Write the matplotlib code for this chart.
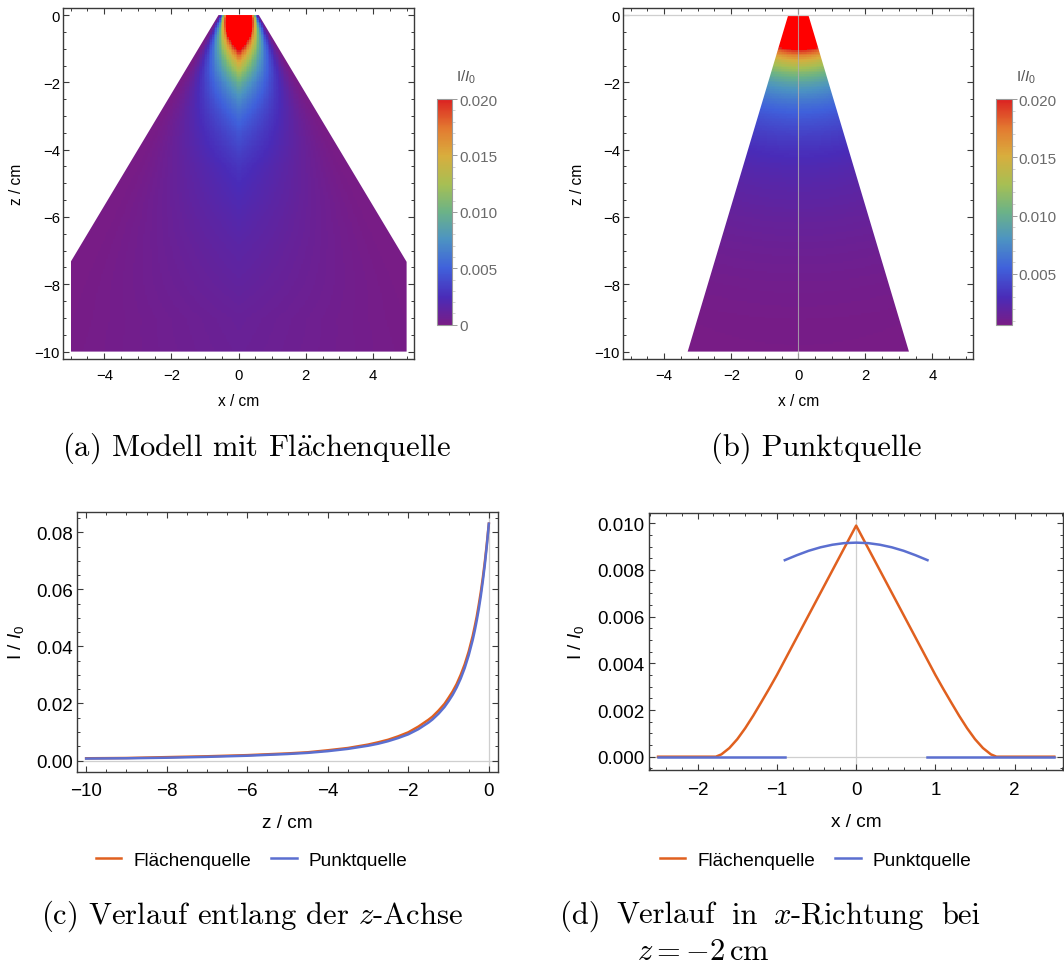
import numpy as np
import matplotlib
matplotlib.use("Agg")
import matplotlib.pyplot as plt
from matplotlib.colors import LinearSegmentedColormap
from matplotlib.ticker import MultipleLocator, FixedLocator
from matplotlib.lines import Line2D
from matplotlib.patches import Polygon

plt.rcParams["font.family"] = ["Liberation Sans", "DejaVu Sans"]
plt.rcParams["mathtext.fontset"] = "custom"
plt.rcParams["mathtext.rm"] = "Liberation Sans"
plt.rcParams["mathtext.it"] = "Liberation Sans:italic"

# ---------------- data ----------------
# intensity on the beam axis (x = 0) versus depth z
z_axis = [0.0, -0.05, -0.1, -0.15, -0.2, -0.25, -0.3, -0.35, -0.4, -0.5, -0.6,
          -0.7, -0.8, -0.9, -1.0, -1.1, -1.25, -1.4, -1.5, -1.75, -2.0, -2.25,
          -2.5, -2.75, -3.0, -3.5, -4.0, -4.5, -5.0, -6.0, -7.0, -8.0, -9.0, -10.0]
I_axis_flaeche = [0.0830, 0.0760, 0.0696, 0.0640, 0.0590, 0.0546, 0.0505, 0.0470,
                  0.0437, 0.0382, 0.0337, 0.0300, 0.0268, 0.0242, 0.0220, 0.0199,
                  0.0175, 0.0154, 0.0143, 0.0119, 0.0099, 0.0085, 0.0073, 0.0064,
                  0.0056, 0.0044, 0.0036, 0.0029, 0.0025, 0.0019, 0.0015, 0.0012,
                  0.0009, 0.0008]
I_axis_punkt = [0.0830, 0.0753, 0.0686, 0.0628, 0.0576, 0.0531, 0.0491, 0.0455,
                0.0423, 0.0369, 0.0324, 0.0287, 0.0256, 0.0230, 0.0208, 0.0188,
                0.0164, 0.0144, 0.0133, 0.0110, 0.0092, 0.0079, 0.0068, 0.0059,
                0.0052, 0.0041, 0.0033, 0.0027, 0.0023, 0.0017, 0.0013, 0.0010,
                0.0008, 0.0007]

# lateral profiles at z = -2 cm
z_profil = -2.0
x_prof_flaeche = [-2.5, -1.77, -1.7, -1.6, -1.5, -1.4, -1.3, -1.2, -1.1, -1.0,
                  -0.75, -0.5, -0.25, 0.0, 0.25, 0.5, 0.75, 1.0, 1.1, 1.2, 1.3,
                  1.4, 1.5, 1.6, 1.7, 1.77, 2.5]
I_prof_flaeche = [0.0, 0.0, 0.0001, 0.00037, 0.00075, 0.00122, 0.00175, 0.00232,
                  0.0029, 0.0035, 0.0051, 0.0067, 0.0083, 0.0099, 0.0083, 0.0067,
                  0.0051, 0.0035, 0.0029, 0.00232, 0.00175, 0.00122, 0.00075,
                  0.00037, 0.0001, 0.0, 0.0]
x_prof_punkt = [-0.9, -0.75, -0.6, -0.45, -0.3, -0.15, 0.0, 0.15, 0.3, 0.45, 0.6, 0.75, 0.9]
I_prof_punkt = [0.00842, 0.00863, 0.00882, 0.00897, 0.00908, 0.00915, 0.00917,
                0.00915, 0.00908, 0.00897, 0.00882, 0.00863, 0.00842]
x_punkt_links = [-2.5, -0.9]
x_punkt_rechts = [0.9, 2.5]
I_punkt_aussen = [0.0, 0.0]

# beam cone: half width at z = 0 and opening slope; field domain
kegel_flaeche = (0.6, 0.6)
kegel_punkt = (0.3, 0.3)
x_rand, z_tief = 5.0, -10.0

legend_labels = ["Flächenquelle", "Punktquelle"]
cbar_ticks_a = [0, 0.005, 0.010, 0.015, 0.020]
cbar_labels_a = ["0", "0.005", "0.010", "0.015", "0.020"]
cbar_ticks_b = [0.005, 0.010, 0.015, 0.020]
cbar_labels_b = ["0.005", "0.010", "0.015", "0.020"]

# ---------------- style ----------------
C_OR = "#e0601f"
C_BL = "#5b6fd0"
FRAME = "#3a3a3a"
AXLINE = "#cfcfcf"

rainbow = LinearSegmentedColormap.from_list("rainbow_m", [
    (0.00, (0.471, 0.110, 0.527)),
    (0.12, (0.290, 0.170, 0.720)),
    (0.25, (0.250, 0.380, 0.860)),
    (0.38, (0.300, 0.580, 0.760)),
    (0.50, (0.420, 0.700, 0.530)),
    (0.62, (0.650, 0.750, 0.330)),
    (0.75, (0.850, 0.680, 0.240)),
    (0.87, (0.890, 0.480, 0.190)),
    (1.00, (0.860, 0.130, 0.130)),
])
rainbow.set_over("#ff0000")

W, H = 1064, 970
fig = plt.figure(figsize=(W / 100, H / 100), dpi=100)


def box(l, t, r, b):
    return [l / W, 1 - b / H, (r - l) / W, (b - t) / H]


def frame(ax, size, xpad, ypad):
    for s in ax.spines.values():
        s.set_color(FRAME)
        s.set_linewidth(1.0)
    ax.tick_params(which="both", direction="in", top=True, right=True,
                   color=FRAME, labelcolor="black", labelsize=size)
    ax.tick_params(which="major", length=4.5, width=0.8)
    ax.tick_params(which="minor", length=2.5, width=0.7)
    ax.tick_params(axis="x", pad=xpad)
    ax.tick_params(axis="y", pad=ypad)


def halbbreite(z, kegel):
    return kegel[0] + kegel[1] * np.abs(z)


def kegel_umriss(kegel):
    """Outline of the illuminated region, cut to the field domain."""
    w0, s = kegel
    w_tief = halbbreite(z_tief, kegel)
    if w_tief <= x_rand:
        return [(-w0, 0), (w0, 0), (w_tief, z_tief), (-w_tief, z_tief)]
    z_knick = -(x_rand - w0) / s
    return [(-w0, 0), (w0, 0), (x_rand, z_knick), (x_rand, z_tief),
            (-x_rand, z_tief), (-x_rand, z_knick)]


# field grid
d = 0.05
xc = np.arange(-x_rand + d / 2, x_rand, d)
zc = np.arange(z_tief + d / 2, 0.0, d)
X, Z = np.meshgrid(xc, zc)

za = np.array(z_axis)[::-1]
Fa = np.interp(Z, za, np.array(I_axis_flaeche)[::-1]) * \
    np.interp(X * halbbreite(z_profil, kegel_flaeche) / halbbreite(Z, kegel_flaeche),
              x_prof_flaeche, I_prof_flaeche) / max(I_prof_flaeche)
Fb = np.interp(Z, za, np.array(I_axis_punkt)[::-1]) * \
    np.interp(X * halbbreite(z_profil, kegel_punkt) / halbbreite(Z, kegel_punkt),
              x_prof_punkt, I_prof_punkt) / max(I_prof_punkt)
Fb_min = float(Fb[np.abs(X) <= halbbreite(Z, kegel_punkt)].min())


def heat(ax_box, ylab_x, cb_box, field, kegel, vmin, ticks, labels, cb_title_x, zero_lines):
    l, t, r, b = ax_box
    ax = fig.add_axes(box(l, t, r, b))
    im = ax.imshow(field, cmap=rainbow, vmin=vmin, vmax=0.020, origin="lower",
                   extent=(-x_rand, x_rand, z_tief, 0.0), interpolation="nearest",
                   aspect="auto", zorder=1)
    im.set_clip_path(Polygon(kegel_umriss(kegel), closed=True, transform=ax.transData))
    if zero_lines:
        ax.axvline(0, color="#b0b0b0", lw=0.8, alpha=0.8, zorder=2)
        ax.axhline(0, color=AXLINE, lw=0.9, zorder=2)
    ax.set_xlim(-5.22, 5.22)
    ax.set_ylim(-10.22, 0.2)
    ax.xaxis.set_major_locator(MultipleLocator(2))
    ax.xaxis.set_minor_locator(MultipleLocator(0.5))
    ax.yaxis.set_major_locator(MultipleLocator(2))
    ax.yaxis.set_minor_locator(MultipleLocator(0.5))
    frame(ax, 10.7, 6.3, 2.4)
    ax.set_xlabel("x / cm", fontsize=11.2)
    ax.set_ylabel("z / cm", fontsize=11.2)
    ax.xaxis.set_label_coords(0.5, -(406.5 - b) / (b - t))
    ax.xaxis.label.set_va("baseline")
    ax.yaxis.set_label_coords((ylab_x - l) / (r - l), 0.5)
    ax.yaxis.label.set_va("center")

    cax = fig.add_axes(box(*cb_box))
    cb = fig.colorbar(im, cax=cax, ticks=ticks)
    cb.set_ticklabels(labels)
    cb.outline.set_edgecolor("#9a9a9a")
    cb.outline.set_linewidth(0.8)
    cax.yaxis.set_minor_locator(FixedLocator(np.arange(0.001, 0.020, 0.001)))
    cax.tick_params(which="major", direction="out", length=3.5, width=0.7,
                    color="#9a9a9a", labelcolor="#6a6a6a", labelsize=11, pad=1.5)
    cax.tick_params(which="minor", direction="out", length=2.0, width=0.6,
                    color="#cccccc")
    fig.text(cb_title_x / W, 1 - 81.5 / H, "I/$I_0$", fontsize=11,
             color="#555555", ha="left", va="baseline")
    return ax


heat((63.3, 9.3, 414.0, 360.0), 16.5, (436.7, 100.0, 452.3, 325.7), Fa, kegel_flaeche,
     0.0, cbar_ticks_a, cbar_labels_a, 456.5, False)
heat((623.3, 9.3, 973.3, 360.0), 577.5, (996.0, 100.0, 1011.7, 325.7), Fb, kegel_punkt,
     Fb_min, cbar_ticks_b, cbar_labels_b, 1016.0, True)

# ---------------- (c) along the z axis ----------------
axc = fig.add_axes(box(77.3, 512.7, 497.7, 772.7))
axc.axhline(0, color=AXLINE, lw=0.9, zorder=1)
axc.axvline(0, color=AXLINE, lw=0.9, zorder=1)
axc.plot(z_axis, I_axis_flaeche, color=C_OR, lw=1.8, zorder=3)
axc.plot(z_axis, I_axis_punkt, color=C_BL, lw=1.8, zorder=4)
axc.set_xlim(-10.22, 0.22)
axc.set_ylim(-0.0039, 0.0872)
axc.xaxis.set_major_locator(MultipleLocator(2))
axc.xaxis.set_minor_locator(MultipleLocator(0.5))
axc.yaxis.set_major_locator(MultipleLocator(0.02))
axc.yaxis.set_minor_locator(MultipleLocator(0.005))
axc.yaxis.set_major_formatter(lambda v, p: f"{v:.2f}")
frame(axc, 13.6, 7.6, 3.3)
axc.set_xlabel("z / cm", fontsize=13.7)
axc.set_ylabel("I / $I_0$", fontsize=13.7)
axc.xaxis.set_label_coords(0.5, -(828.3 - 772.7) / 260.0)
axc.xaxis.label.set_va("baseline")
axc.yaxis.set_label_coords((15.5 - 77.3) / 420.4, 0.5)
axc.yaxis.label.set_va("center")

# ---------------- (d) across x at z = -2 cm ----------------
axd = fig.add_axes(box(649.3, 514.0, 1063.0, 771.0))
axd.axhline(0, color=AXLINE, lw=0.9, zorder=1)
axd.axvline(0, color=AXLINE, lw=0.9, zorder=1)
axd.plot(x_prof_flaeche, I_prof_flaeche, color=C_OR, lw=1.8, zorder=3)
axd.plot(x_prof_punkt, I_prof_punkt, color=C_BL, lw=1.8, zorder=4)
axd.plot(x_punkt_links, I_punkt_aussen, color=C_BL, lw=1.8, zorder=4)
axd.plot(x_punkt_rechts, I_punkt_aussen, color=C_BL, lw=1.8, zorder=4)
axd.set_xlim(-2.61, 2.61)
axd.set_ylim(-0.00057, 0.01044)
axd.xaxis.set_major_locator(MultipleLocator(1))
axd.xaxis.set_minor_locator(MultipleLocator(0.2))
axd.yaxis.set_major_locator(MultipleLocator(0.002))
axd.yaxis.set_minor_locator(MultipleLocator(0.0005))
axd.yaxis.set_major_formatter(lambda v, p: f"{v:.3f}")
frame(axd, 13.6, 7.6, 3.3)
axd.set_xlabel("x / cm", fontsize=13.7)
axd.set_ylabel("I / $I_0$", fontsize=13.7)
axd.xaxis.set_label_coords(0.5, -(827.0 - 771.0) / 257.0)
axd.xaxis.label.set_va("baseline")
axd.yaxis.set_label_coords((575.5 - 649.3) / 413.7, 0.5)
axd.yaxis.label.set_va("center")

handles = [Line2D([], [], color=C_OR, lw=1.8), Line2D([], [], color=C_BL, lw=1.8)]
for ax, cx in ((axc, 251.7), (axd, 815.5)):
    ax.legend(handles, legend_labels, loc="center", bbox_to_anchor=(cx / W, 1 - 861 / H),
              bbox_transform=fig.transFigure, ncol=2, frameon=False, fontsize=13.7,
              handlelength=1.35, handletextpad=0.63, columnspacing=1.05)

# ---------------- captions ----------------
cap = dict(family="cmr10", math_fontfamily="cm", fontsize=22, va="baseline")
fig.text(256.6 / W, 1 - 456 / H, r"(a) Modell mit Fl$\ddot{\mathrm{a}}$chenquelle", ha="center", **cap)
fig.text(816.5 / W, 1 - 456 / H, "(b) Punktquelle", ha="center", **cap)
fig.text(252.0 / W, 1 - 924 / H, r"(c) Verlauf entlang der $z$-Achse", ha="center", **cap)

# justified first line of caption (d), second line with hanging indent
renderer = fig.canvas.get_renderer()
words_d = ["(d)", "Verlauf", "in", r"$x$-Richtung", "bei"]
line_x0, line_x1 = 560.0, 980.0
objs = [fig.text(0, 1 - 924 / H, w_, ha="left", **cap) for w_ in words_d]
widths = [o.get_window_extent(renderer).width for o in objs]
gap = (line_x1 - line_x0 - sum(widths)) / (len(words_d) - 1)
xpos = line_x0
for o, wd in zip(objs, widths):
    o.set_x(xpos / W)
    xpos += wd + gap
fig.text(637.0 / W, 1 - 960 / H, r"$z = -2\,\mathrm{cm}$", ha="left", **cap)

fig.savefig("out.png", dpi=100)
